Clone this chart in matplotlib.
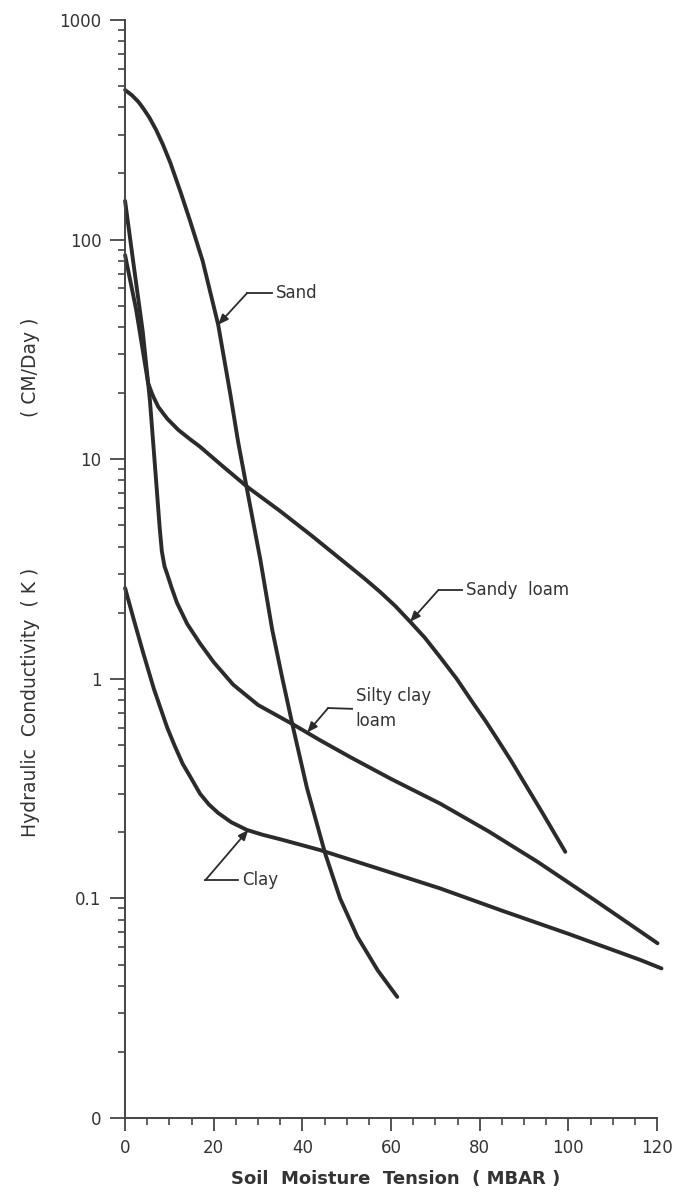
import numpy as np
import matplotlib
matplotlib.use("Agg")
import matplotlib.pyplot as plt
from matplotlib.ticker import FixedLocator, LogLocator, NullFormatter

# values (x = tension in mbar, k in cm/day)
sand_x = [0, 1.5, 3.0, 4.1, 5.5, 7.0, 8.5, 10.2, 12.5, 14.7, 17.5, 21.0,
          23.7, 25.5, 27.5, 30.5, 33.2, 35.5, 37.9, 41.0, 45.1, 48.5, 52.4,
          57.0, 61.4]
sand_k = [480, 455, 424, 396, 359, 316, 272, 224, 165, 121, 80, 41,
          20, 12, 7.3, 3.5, 1.67, 1.0, 0.60, 0.32, 0.161, 0.10, 0.067,
          0.047, 0.0356]

sandy_loam_x = [0, 2.5, 5.2, 6.2, 7.5, 9.5, 12.0, 14.5, 16.9, 22.0, 27.5,
                35.0, 42.0, 50.8, 54.2, 57.6, 61.0, 64.3, 67.6, 71.0, 74.8,
                78.6, 81.3, 84.0, 87.0, 89.8, 94.0, 99.3]
sandy_loam_k = [85, 48, 22.2, 19.6, 17.3, 15.3, 13.6, 12.4, 11.4, 9.3, 7.5,
                5.8, 4.5, 3.23, 2.84, 2.48, 2.14, 1.82, 1.54, 1.26, 1.00,
                0.77, 0.643, 0.53, 0.426, 0.343, 0.248, 0.163]

silty_x = [0, 2.0, 4.0, 5.6, 7.0, 7.8, 8.3, 8.9, 9.5, 10.5, 11.7, 14.0, 16.9,
           20.0, 24.4, 30.0, 37.9, 44.0, 50.8, 60.0, 71.1, 82.0, 93.0, 106.0,
           120.1]
silty_k = [150, 75, 38, 18.6, 8.0, 4.9, 3.8, 3.25, 3.0, 2.6, 2.22, 1.78, 1.45,
           1.19, 0.94, 0.76, 0.62, 0.525, 0.44, 0.35, 0.27, 0.202, 0.147, 0.098,
           0.0625]

clay_x = [0, 2.0, 4.1, 6.5, 9.5, 11.2, 13.0, 15.0, 16.9, 18.9, 21.0, 24.0,
          27.5, 31.0, 35.0, 44.0, 57.0, 71.1, 85.0, 100.0, 116.3, 121.0]
clay_k = [2.59, 1.85, 1.31, 0.90, 0.60, 0.495, 0.41, 0.35, 0.30, 0.268,
          0.245, 0.222, 0.205, 0.195, 0.186, 0.166, 0.137, 0.111, 0.088,
          0.069, 0.0524, 0.048]

x_ticks = [0, 20, 40, 60, 80, 100, 120]
y_ticks = [0.01, 0.1, 1, 10, 100, 1000]
y_labels = ["0", "0.1", "1", "10", "100", "1000"]

ink = "#2b2b2b"

fig = plt.figure(figsize=(6.76, 11.95), dpi=100)
ax = fig.add_axes([0.185, 0.0644, 0.787, 0.9189])

for xs, ks in [(sand_x, sand_k), (sandy_loam_x, sandy_loam_k),
               (silty_x, silty_k), (clay_x, clay_k)]:
    ax.plot(xs, ks, color=ink, lw=2.8, solid_capstyle="round",
            solid_joinstyle="round", clip_on=False)

ax.set_yscale("log")
ax.set_xlim(0, 120)
ax.set_ylim(0.01, 1000)

ax.spines["top"].set_visible(False)
ax.spines["right"].set_visible(False)
for s in ["left", "bottom"]:
    ax.spines[s].set_color("#444444")
    ax.spines[s].set_linewidth(1.4)

ax.yaxis.set_major_locator(FixedLocator(y_ticks))
ax.set_yticklabels(y_labels)
ax.yaxis.set_minor_locator(LogLocator(base=10, subs=np.arange(2, 10)))
ax.yaxis.set_minor_formatter(NullFormatter())
ax.set_xticks(x_ticks)
ax.set_xticks(np.arange(0, 121, 5), minor=True)

ax.tick_params(axis="y", which="major", length=11, width=1.3, pad=6,
               labelsize=12, color="#444444", labelcolor="#333333")
ax.tick_params(axis="y", which="minor", length=5, width=1.2, color="#444444")
ax.tick_params(axis="x", which="major", length=9, width=1.3, pad=6,
               labelsize=12, color="#444444", labelcolor="#333333")
ax.tick_params(axis="x", which="minor", length=5, width=1.2, color="#444444")

ax.set_xlabel("Soil  Moisture  Tension  ( MBAR )", fontsize=13,
              fontweight="bold", color="#333333")
ax.xaxis.set_label_coords(0.508, -0.047)

# y label is split in two pieces with a wide gap, as on the original
fig.text(0.045, 1 - 702 / 1195, "Hydraulic  Conductivity  ( K )", rotation=90,
         ha="center", va="center", fontsize=13.5, color="#333333")
fig.text(0.045, 1 - 367 / 1195, "( CM/Day )", rotation=90,
         ha="center", va="center", fontsize=13.5, color="#333333")

# labels with bent leader lines and small arrowheads
labels = [
    ("Sand", (33.2, 57), (27.5, 57), (21.0, 41)),
    ("Sandy  loam", (76.1, 2.54), (70.7, 2.54), (64.3, 1.82)),
    ("Silty clay\nloam", (51.2, 0.73), (45.8, 0.736), (41.1, 0.57)),
    ("Clay", (25.5, 0.121), (18.1, 0.121), (27.8, 0.205)),
]
for text, txy, bend, tip in labels:
    ax.text(txy[0] + 0.8, txy[1], text, fontsize=12, color="#333333",
            ha="left", va="center", linespacing=1.5)
    ax.plot([txy[0], bend[0]], [txy[1], bend[1]], color=ink, lw=1.3)
    ax.annotate("", xy=tip, xytext=bend,
                arrowprops=dict(arrowstyle="-|>,head_length=0.6,head_width=0.25",
                                color=ink, lw=1.3, shrinkA=0, shrinkB=0))

fig.savefig("out.png", dpi=100)
